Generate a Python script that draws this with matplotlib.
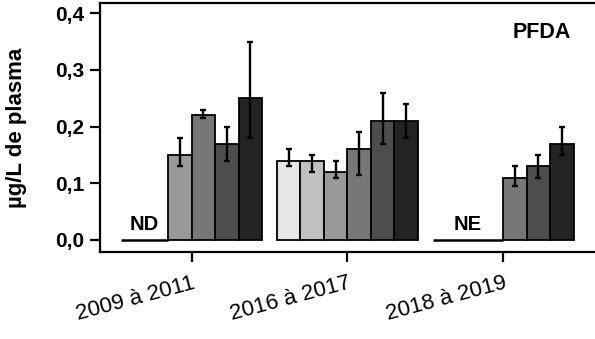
#!/usr/bin/env python3

import numpy as np
import matplotlib
matplotlib.use("Agg")
import matplotlib.pyplot as plt

plt.rcParams['font.family'] = ['Liberation Sans', 'DejaVu Sans']

# data (nan = no bar)
groups = ["2009 à 2011", "2016 à 2017", "2018 à 2019"]
slot_colors = ['#e6e6e6', '#c0c0c0', '#999999', '#777777', '#4d4d4d', '#232323']
values = [
    [np.nan, np.nan, 0.15, 0.22, 0.17, 0.25],
    [0.14, 0.14, 0.12, 0.16, 0.21, 0.21],
    [np.nan, np.nan, np.nan, 0.11, 0.13, 0.17],
]
err_low = [
    [0, 0, 0.02, 0.005, 0.03, 0.07],
    [0.01, 0.02, 0.01, 0.045, 0.04, 0.03],
    [0, 0, 0, 0.015, 0.02, 0.02],
]
err_high = [
    [0, 0, 0.03, 0.01, 0.03, 0.10],
    [0.02, 0.01, 0.02, 0.03, 0.05, 0.03],
    [0, 0, 0, 0.02, 0.02, 0.03],
]
missing_text = ["ND", None, "NE"]
yticks = [0.0, 0.1, 0.2, 0.3, 0.4]
ytick_labels = ["0,0", "0,1", "0,2", "0,3", "0,4"]

w = 0.151  # bar width (6 bars per group)

fig = plt.figure(figsize=(5.95, 3.39), dpi=100)
ax = fig.add_axes([0.168, 0.257, 0.84, 0.734])

for g in range(len(groups)):
    n_missing = 0
    for i in range(6):
        x = g + (i - 2.5) * w
        v = values[g][i]
        if np.isnan(v):
            n_missing += 1
            continue
        ax.bar(x, v, width=w, color=slot_colors[i], edgecolor='black', linewidth=1.3, zorder=2)
        ax.errorbar(x, v, yerr=[[err_low[g][i]], [err_high[g][i]]], fmt='none',
                    ecolor='black', elinewidth=1.7, capsize=2.5, capthick=1.7, zorder=3)
    if n_missing:
        x0 = g - 3 * w
        x1 = x0 + n_missing * w
        ax.plot([x0, x1], [0, 0], color='black', lw=1.8, solid_capstyle='butt', zorder=2)
        ax.text((x0 + x1) / 2, 0.011, missing_text[g], ha='center', va='bottom',
                fontsize=14.5, fontweight='bold')

ax.text(2.434, 0.366, "PFDA", ha='right', va='center', fontsize=15.5, fontweight='bold')

ax.set_xlim(-0.588, 2.62)
ax.set_ylim(-0.021, 0.418)
ax.set_yticks(yticks)
ax.set_yticklabels(ytick_labels, fontsize=15, fontweight='bold')
ax.set_xticks(range(len(groups)))
ax.set_xticklabels(groups, fontsize=16, rotation=15, ha='right', va='top', rotation_mode='anchor')
ax.set_ylabel("µg/L de plasma", fontsize=16, fontweight='bold')
ax.yaxis.set_label_coords(-0.146, 0.5)

for s in ax.spines.values():
    s.set_linewidth(1.6)
ax.tick_params(axis='both', width=1.6, length=7, direction='out')
ax.tick_params(axis='x', pad=8)
ax.tick_params(axis='y', pad=4)

fig.savefig("out.png", dpi=100)
